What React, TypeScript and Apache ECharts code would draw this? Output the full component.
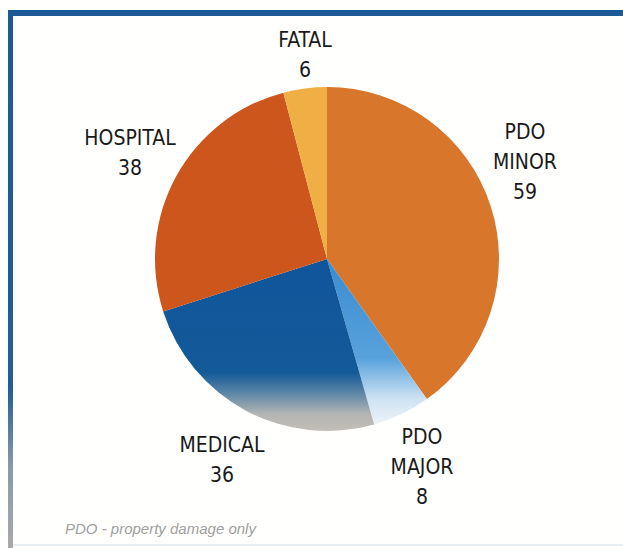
import React, { useEffect, useRef } from "react";
import * as echarts from "echarts";

const categories = ["PDO\nMINOR", "PDO\nMAJOR", "MEDICAL", "HOSPITAL", "FATAL"];
const values = [59, 8, 36, 38, 6];
const footnote = "PDO - property damage only";

// label block centres (layout only)
const labelPos: [number, number][] = [
  [525, 162],
  [422, 467],
  [222, 460],
  [130, 153],
  [305, 55],
];

const grad = (stops: [number, string][]) =>
  new echarts.graphic.LinearGradient(
    0, 0, 0, 1,
    stops.map(([offset, color]) => ({ offset, color }))
  );

export default function App() {
  const ref = useRef<HTMLDivElement>(null);
  useEffect(() => {
    if (!ref.current) return;
    const chart = echarts.init(ref.current, null, { renderer: "svg" });
    const colors = [
      "#D8762C",
      grad([
        [0, "#3A8BD0"],
        [0.6, "#58A2DC"],
        [0.85, "#CFE3F3"],
        [1, "#EEF3F7"],
      ]),
      grad([
        [0, "#10559A"],
        [0.66, "#135A99"],
        [0.78, "#5C86A6"],
        [0.9, "#B4B4B2"],
        [1, "#C2BEB8"],
      ]),
      "#CC561C",
      "#EFAF45",
    ];
    chart.setOption({
      animation: false,
      backgroundColor: "#FFFFFE",
      graphic: [
        {
          type: "line",
          shape: { x1: 8, y1: 13, x2: 623, y2: 13 },
          style: { stroke: "#1B5A94", lineWidth: 6 },
        },
        {
          type: "rect",
          shape: { x: 8, y: 10, width: 5, height: 538 },
          style: {
            fill: new echarts.graphic.LinearGradient(0, 0, 0, 1, [
              { offset: 0, color: "#1B5A94" },
              { offset: 0.7, color: "#1F5E96" },
              { offset: 0.85, color: "#8A9AA8" },
              { offset: 1, color: "#A8A8A8" },
            ]),
          },
        },
        {
          type: "line",
          shape: { x1: 13, y1: 545, x2: 623, y2: 545 },
          style: { stroke: "#E6ECEF", lineWidth: 2 },
        },
        {
          type: "text",
          x: 65,
          y: 528,
          style: {
            text: footnote,
            fill: "#A0A0A0",
            font: "italic 300 15px 'Liberation Sans', Arial, sans-serif",
            verticalAlign: "middle",
          },
        },
      ],
      series: [
        {
          type: "pie",
          center: [327, 259],
          radius: 172,
          startAngle: 90,
          clockwise: true,
          silent: true,
          data: categories.map((name, i) => ({
            name,
            value: values[i],
            itemStyle: { color: colors[i] },
          })),
          label: {
            show: true,
            position: "outside",
            formatter: (p: any) => `${p.name}\n${p.value}`,
            color: "#1A1A1A",
            fontFamily: "'DejaVu Sans Condensed', 'Liberation Sans Narrow', sans-serif",
            fontSize: 21,
            lineHeight: 30,
            align: "center",
          },
          labelLine: { show: false },
          labelLayout: (params: any) => ({
            x: labelPos[params.dataIndex][0],
            y: labelPos[params.dataIndex][1],
            align: "center",
            verticalAlign: "middle",
          }),
        },
      ],
    });
    return () => chart.dispose();
  }, []);
  return (
    <div
      ref={ref}
      style={{ position: "fixed", left: 0, top: 0, width: 623, height: 548 }}
    />
  );
}
